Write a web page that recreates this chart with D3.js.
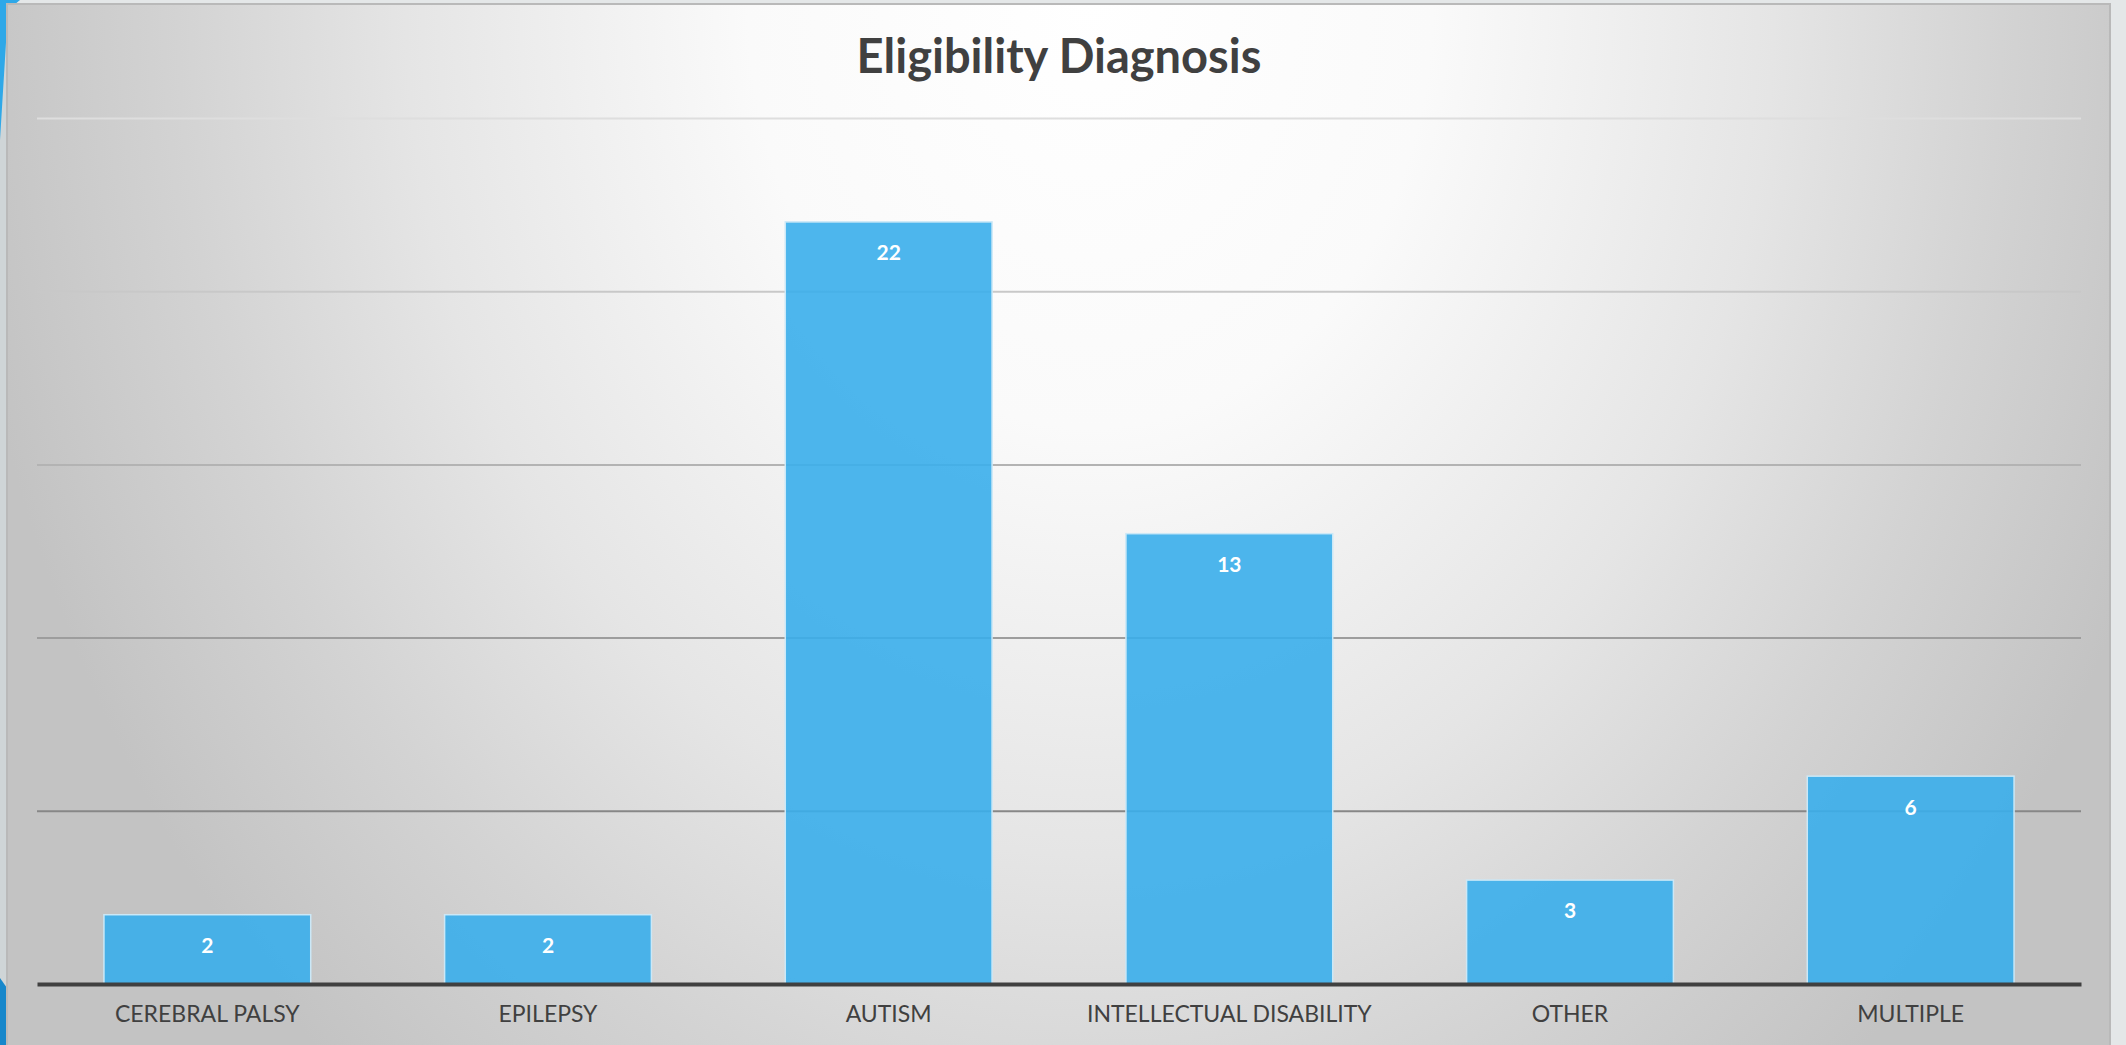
<!DOCTYPE html>
<html>
<head>
<meta charset="utf-8">
<script src="https://cdn.jsdelivr.net/npm/d3@7"></script>
<style>
  body { margin: 0; background: #e4e7e8; }
  svg { display: block; }
</style>
</head>
<body>
<div id="chart"></div>
<script>

// data
var categories = ["CEREBRAL PALSY", "EPILEPSY", "AUTISM", "INTELLECTUAL DISABILITY", "OTHER", "MULTIPLE"];
var counts = [2, 2, 22, 13, 3, 6];
var yTicks = [0, 5, 10, 15, 20, 25];
var title = "Eligibility Diagnosis";

var width = 2126,
	height = 1045;

var margin = {top: 118, right: 45, bottom: 61, left: 37};
var plotW = width - margin.left - margin.right,
	plotH = height - margin.top - margin.bottom;

var svg = d3.select("#chart").append("svg")
	.attr("width", width)
	.attr("height", height);

var defs = svg.append("defs");

// soft white glow behind the title, greying out to the sides
var grad = defs.append("radialGradient")
	.attr("id", "panelFill")
	.attr("gradientUnits", "userSpaceOnUse")
	.attr("cx", 1090).attr("cy", 0).attr("r", 1140)
	.attr("gradientTransform", "translate(1090,0) scale(1,1.25) translate(-1090,0)");
[[0, "#ffffff"], [0.3, "#fafafa"], [0.6, "#e5e5e5"], [0.8, "#d3d3d3"], [1, "#c3c3c3"]]
	.forEach(function(s) {
		grad.append("stop").attr("offset", s[0]).attr("stop-color", s[1]);
	});

// slide bits around the chart
svg.append("rect")
	.attr("width", width).attr("height", height)
	.attr("fill", "#e4e7e8");
svg.append("rect")
	.attr("x", 0).attr("y", 0).attr("width", 8).attr("height", height)
	.attr("fill", "#cfd5d7");
svg.append("path")
	.attr("d", "M0,0 L20,0 L8,10 L0,140 Z")
	.attr("fill", "#2ea8e8");
svg.append("path")
	.attr("d", "M0,978 L7,988 L7,1045 L0,1045 Z")
	.attr("fill", "#1687cb");

// chart panel
svg.append("rect")
	.attr("x", 7).attr("y", 4)
	.attr("width", 2103).attr("height", height)
	.attr("fill", "url(#panelFill)")
	.attr("stroke", "#b9b9b9")
	.attr("stroke-width", 2);

var g = svg.append("g")
	.attr("transform", "translate(" + margin.left + "," + margin.top + ")");

var x = d3.scaleBand()
	.domain(categories)
	.range([0, plotW])
	.paddingInner(0.393)
	.paddingOuter(0.1965);

var y = d3.scaleLinear()
	.domain([0, 25])
	.range([plotH, 0]);

var gridColor = d3.scaleLinear()
	.domain([5, 25])
	.range(["#878787", "#dedede"]);

// gridlines
var grid = g.append("g")
	.call(d3.axisLeft(y).tickValues(yTicks.slice(1)).tickSize(-plotW).tickFormat(""));
grid.select(".domain").remove();
grid.selectAll(".tick line")
	.attr("stroke", function(d) { return gridColor(d); })
	.attr("stroke-width", 2);

// bars
g.selectAll(".bar")
	.data(counts)
  .enter().append("rect")
	.attr("class", "bar")
	.attr("x", function(d, i) { return x(categories[i]); })
	.attr("y", function(d) { return y(d); })
	.attr("width", x.bandwidth())
	.attr("height", function(d) { return plotH - y(d); })
	.attr("fill", "#3aaeeb")
	.attr("fill-opacity", 0.9)
	.attr("stroke", "#cbe8f7")
	.attr("stroke-width", 1.5);

// value labels
g.selectAll(".val")
	.data(counts)
  .enter().append("text")
	.attr("class", "val")
	.attr("x", function(d, i) { return x(categories[i]) + x.bandwidth() / 2; })
	.attr("y", function(d) { return y(d) + 31; })
	.attr("dy", "0.35em")
	.attr("text-anchor", "middle")
	.attr("fill", "#ffffff")
	.style("font-family", "Lato, 'Open Sans', sans-serif")
	.style("font-weight", "bold")
	.style("font-size", "21px")
	.text(function(d) { return d; });

// x axis
var xAxis = g.append("g")
	.attr("transform", "translate(0," + plotH + ")")
	.call(d3.axisBottom(x).tickSize(0).tickPadding(22).tickSizeOuter(0));
xAxis.select(".domain")
	.attr("stroke", "#404040")
	.attr("stroke-width", 4);
xAxis.selectAll("text")
	.attr("fill", "#404040")
	.style("font-family", "Lato, 'Open Sans', sans-serif")
	.style("font-size", "23px");

// title
svg.append("text")
	.attr("x", margin.left + plotW / 2)
	.attr("y", 57)
	.attr("dy", "0.35em")
	.attr("text-anchor", "middle")
	.attr("fill", "#404040")
	.style("font-family", "Lato, 'Open Sans', sans-serif")
	.style("font-weight", "bold")
	.style("font-size", "47px")
	.text(title);

</script>
</body>
</html>
